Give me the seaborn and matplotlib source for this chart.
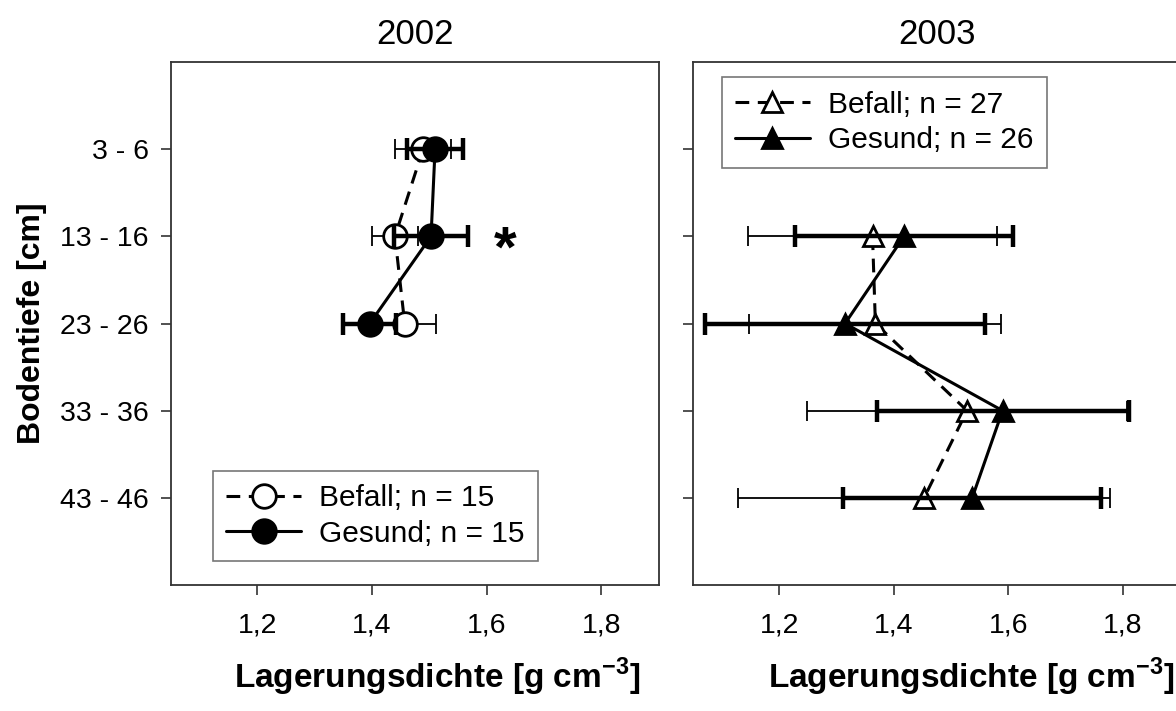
import matplotlib
matplotlib.use("Agg")
import matplotlib.pyplot as plt
import seaborn as sns

# depth classes (y axis, top to bottom)
depth_labels = ["3 - 6", "13 - 16", "23 - 26", "33 - 36", "43 - 46"]

# 2002
depth_2002 = ["3 - 6", "13 - 16", "23 - 26"]
befall_2002_mean = [1.489, 1.440, 1.457]
befall_2002_err = [0.049, 0.040, 0.054]
gesund_2002_mean = [1.510, 1.503, 1.396]
gesund_2002_err = [0.049, 0.064, 0.046]
labels_2002 = ["Befall; n = 15", "Gesund; n = 15"]

# 2003
depth_2003 = ["13 - 16", "23 - 26", "33 - 36", "43 - 46"]
befall_2003_mean = [1.363, 1.368, 1.528, 1.453]
befall_2003_err = [0.217, 0.220, 0.279, 0.325]
gesund_2003_mean = [1.418, 1.315, 1.590, 1.537]
gesund_2003_err = [0.191, 0.245, 0.220, 0.225]
labels_2003 = ["Befall; n = 27", "Gesund; n = 26"]

xticks = [1.2, 1.4, 1.6, 1.8]
xtick_labels = ["1,2", "1,4", "1,6", "1,8"]

sns.set_style("ticks")
plt.rcParams["font.family"] = ["Liberation Sans", "DejaVu Sans"]
plt.rcParams["text.color"] = "black"
plt.rcParams["axes.labelcolor"] = "black"
plt.rcParams["mathtext.fontset"] = "custom"
plt.rcParams["mathtext.rm"] = "Liberation Sans"
plt.rcParams["mathtext.bf"] = "Liberation Sans:bold"

fig = plt.figure(figsize=(11.76, 7.11), dpi=100)
ax1 = fig.add_axes([0.1454, 0.1772, 0.4150, 0.7356])
ax2 = fig.add_axes([0.5890, 0.1772, 0.4150, 0.7356])


def draw_panel(ax, depths, b_mean, b_err, g_mean, g_err, marker, msize):
    pos = [depth_labels.index(d) + 1 for d in depths]
    handles = []
    series = [
        (b_mean, b_err, "white", (0, (4.5, 2.8)), 1.3, 7),
        (g_mean, g_err, "black", "-", 3.2, 8),
    ]
    for mean, err, fill, ls, elw, cap in series:
        ax.errorbar(mean, pos, xerr=err, fmt="none", ecolor="black",
                    elinewidth=elw, capsize=cap, capthick=elw)
        sns.lineplot(x=mean, y=pos, orient="y", sort=False, estimator=None,
                     color="black", linestyle=ls, linewidth=2.2,
                     marker=marker, markersize=msize, markerfacecolor=fill,
                     markeredgecolor="black", markeredgewidth=2.0, ax=ax)
        handles.append(ax.lines[-1])
    return handles


h1 = draw_panel(ax1, depth_2002, befall_2002_mean, befall_2002_err,
                gesund_2002_mean, gesund_2002_err, "o", 17)
h2 = draw_panel(ax2, depth_2003, befall_2003_mean, befall_2003_err,
                gesund_2003_mean, gesund_2003_err, "^", 15)

ax1.text(1.632, 2.17, "*", fontsize=42, fontweight="bold",
         ha="center", va="center")

for ax, year, lx in [(ax1, "2002", 0.545), (ax2, "2003", 0.57)]:
    ax.set_xlim(1.049, 1.901)
    ax.set_ylim(6, 0)
    ax.set_xticks(xticks)
    ax.set_xticklabels(xtick_labels)
    ax.set_yticks(range(1, len(depth_labels) + 1))
    ax.tick_params(axis="both", direction="out", length=7, width=1.2,
                   labelsize=20.5, color="#333333", labelcolor="black")
    ax.tick_params(axis="x", pad=13)
    ax.tick_params(axis="y", pad=9)
    for sp in ax.spines.values():
        sp.set_visible(True)
        sp.set_linewidth(1.3)
        sp.set_color("#333333")
    ax.set_title(year, fontsize=25, pad=13)
    ax.set_xlabel(r"Lagerungsdichte [g cm$^{\mathbf{-3}}$]",
                  fontsize=24, fontweight="bold")
    ax.xaxis.set_label_coords(lx, -0.135)

ax1.set_yticklabels(depth_labels)
ax2.set_yticklabels([])
ax1.set_ylabel("Bodentiefe [cm]", fontsize=23, fontweight="bold")
ax1.yaxis.set_label_coords(-0.255, 0.5)
ax2.set_ylabel("")

leg_kw = dict(frameon=True, fancybox=False, edgecolor="#555555",
              fontsize=21.5, handlelength=2.5, handletextpad=0.6,
              borderpad=0.45, labelspacing=0.25, borderaxespad=0)
leg1 = ax1.legend(handles=h1, labels=labels_2002, loc="lower left",
                  bbox_to_anchor=(0.086, 0.046), **leg_kw)
leg2 = ax2.legend(handles=h2, labels=labels_2003, loc="upper left",
                  bbox_to_anchor=(0.0594, 0.971), **leg_kw)
for leg in (leg1, leg2):
    leg.get_frame().set_linewidth(1.2)

fig.savefig("out.png", dpi=100)
